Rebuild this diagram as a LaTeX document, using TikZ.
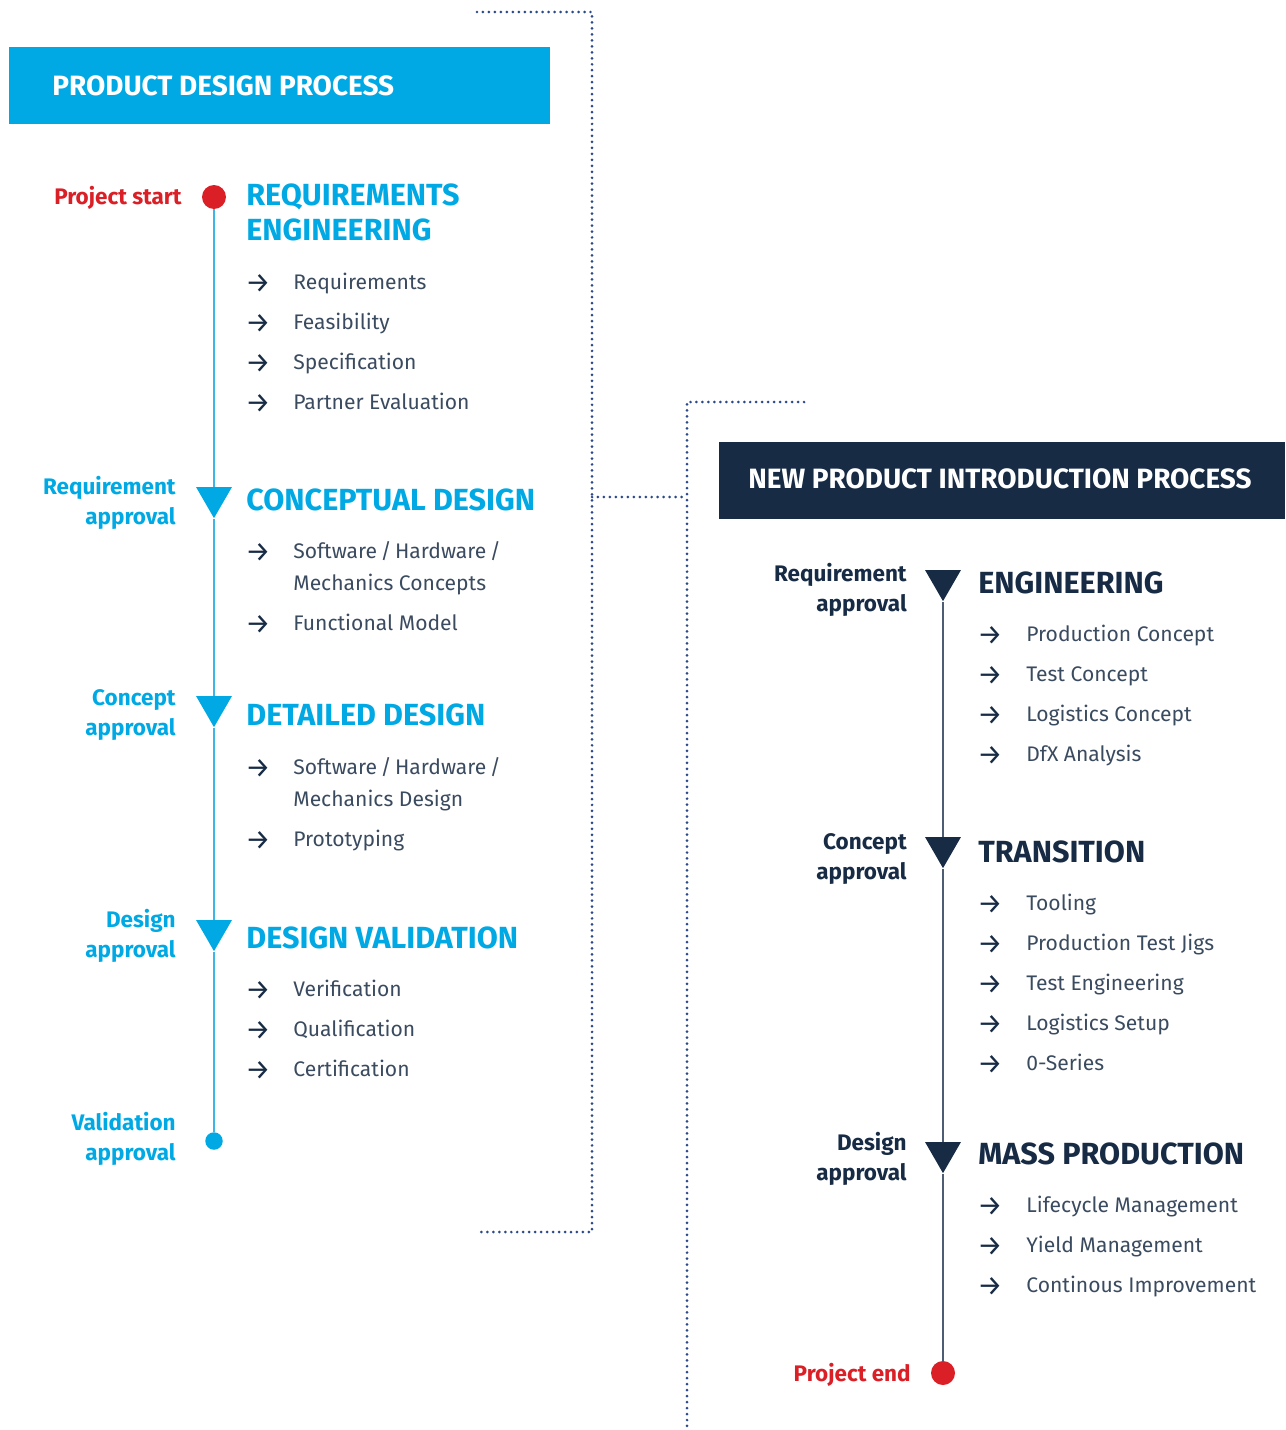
\documentclass[tikz,border=0pt]{standalone}
\usepackage{fontspec}
\setmainfont{Fira Sans}
\usetikzlibrary{shapes.geometric}
\definecolor{pdblue}{HTML}{00A9E4}
\definecolor{pdline}{HTML}{3DB5E6}
\definecolor{npnavy}{HTML}{172B45}
\definecolor{npline}{HTML}{4D5D73}
\definecolor{pjred}{HTML}{DA1F26}
\definecolor{itemgray}{HTML}{3A4A5F}
\definecolor{dotblue}{HTML}{2C4A8A}
\tikzset{
  hdrbox/.style={anchor=north west, minimum height=1.54cm, inner sep=0pt},
  hdr/.style={anchor=west, text=white, inner sep=0pt, font=\bfseries\fontsize{15.9}{20}\selectfont},
  stage/.style={anchor=base west, align=left, inner sep=0pt, font=\bfseries\fontsize{17.4}{19.8}\selectfont},
  gate/.style={anchor=base east, align=right, inner sep=0pt, font=\bfseries\fontsize{12.8}{17}\selectfont},
  itemarr/.style={anchor=base west, inner sep=0pt, text=npnavy, font=\fontsize{16}{18}\selectfont},
  item/.style={anchor=base west, align=left, inner sep=0pt, text=itemgray, font=\fontsize{12}{18}\selectfont},
  tri/.style={regular polygon, regular polygon sides=3, shape border rotate=180,
    minimum size=0.83cm, inner sep=0pt},
  dotpt/.style={circle, inner sep=0pt},
  dotline/.style={dotblue, line width=1.7pt, line cap=round, dash pattern=on 0pt off 3.4pt}
}
\begin{document}
\begin{tikzpicture}[x=0.02cm, y=-0.02cm]
\useasboundingbox (0,0) rectangle (1285,1430);
% dotted brackets
\coordinate (b1) at (477,12);
\coordinate (b2) at (592,12);
\coordinate (b3) at (592,1232);
\coordinate (b4) at (477,1232);
\coordinate (bm) at (592,497);
\coordinate (c1) at (804,402);
\coordinate (c2) at (687,402);
\coordinate (c3) at (687,1430);
\coordinate (cm) at (687,497);
\draw[dotline] (b1) -- (b2) -- (b3) -- (b4);
\draw[dotline] (bm) -- (cm);
\draw[dotline] (c1) -- (c2) -- (c3);

% product design process
\node[hdrbox, fill=pdblue, minimum width=10.82cm] (pdh) at (9,47) {};
\node[hdr] (pdt) at (52,86) {PRODUCT DESIGN PROCESS};
\node[dotpt, fill=pjred, minimum size=0.48cm] (ps) at (214,197) {};
\node[tri, fill=pdblue] (pt1) at (214,497.4) {};
\node[tri, fill=pdblue] (pt2) at (214,706.4) {};
\node[tri, fill=pdblue] (pt3) at (214,930.4) {};
\node[dotpt, fill=pdblue, minimum size=0.35cm] (pe) at (214,1141) {};
\draw[pdline, line width=1.2pt] (ps) -- (pt1) -- (pt2) -- (pt3) -- (pe);

\node[gate, text=pjred] (psl) at (182,204) {Project start};
\node[gate, text=pdblue] (pg1) at (176,524) {Requirement\\approval};
\node[gate, text=pdblue] (pg2) at (176,735) {Concept\\approval};
\node[gate, text=pdblue] (pg3) at (176,957) {Design\\approval};
\node[gate, text=pdblue] (pg4) at (176,1160) {Validation\\approval};

\node[stage, text=pdblue] (ps1) at (246,240) {REQUIREMENTS\\ENGINEERING};
\node[stage, text=pdblue] (ps2) at (246,510) {CONCEPTUAL DESIGN};
\node[stage, text=pdblue] (ps3) at (246,725) {DETAILED DESIGN};
\node[stage, text=pdblue] (ps4) at (246,948) {DESIGN VALIDATION};

\foreach \y/\z/\t [count=\i] in {292/289/Requirements, 332/329/Feasibility, 372/369/Specification,
    412/409/Partner Evaluation, 561/590/{Software\,/\,Hardware\,/\\Mechanics Concepts},
    633/630/Functional Model, 777/806/{Software\,/\,Hardware\,/\\Mechanics Design},
    849/846/Prototyping, 999/996/Verification, 1039/1036/Qualification, 1079/1076/Certification}{
  \node[itemarr] (pa\i) at (245,\y) {→};
  \node[item] (pi\i) at (293,\z) {\t};
}

% new product introduction process
\node[hdrbox, fill=npnavy, minimum width=11.32cm] (nph) at (719,442) {};
\node[hdr] (npt) at (748,479) {NEW PRODUCT INTRODUCTION PROCESS};
\node[tri, fill=npnavy] (nt1) at (943,580.4) {};
\node[tri, fill=npnavy] (nt2) at (943,847.4) {};
\node[tri, fill=npnavy] (nt3) at (943,1152.4) {};
\node[dotpt, fill=pjred, minimum size=0.48cm] (ne) at (943,1373) {};
\draw[npline, line width=1.2pt] (nt1) -- (nt2) -- (nt3) -- (ne);

\node[gate, text=npnavy] (ng1) at (907,611) {Requirement\\approval};
\node[gate, text=npnavy] (ng2) at (907,879) {Concept\\approval};
\node[gate, text=npnavy] (ng3) at (907,1180) {Design\\approval};
\node[gate, text=pjred] (nel) at (911,1381) {Project end};

\node[stage, text=npnavy] (ns1) at (978,593) {ENGINEERING};
\node[stage, text=npnavy] (ns2) at (978,862) {TRANSITION};
\node[stage, text=npnavy] (ns3) at (978,1164) {MASS PRODUCTION};

\foreach \y/\t [count=\i] in {641/Production Concept, 681/Test Concept,
    721/Logistics Concept, 761/DfX Analysis, 910/Tooling, 950/Production Test Jigs,
    990/Test Engineering, 1030/Logistics Setup, 1070/0-Series,
    1212/Lifecycle Management, 1252/Yield Management, 1292/Continous Improvement}{
  \node[itemarr] (na\i) at (977,\y+3) {→};
  \node[item] (ni\i) at (1026,\y) {\t};
}
\end{tikzpicture}
\end{document}
